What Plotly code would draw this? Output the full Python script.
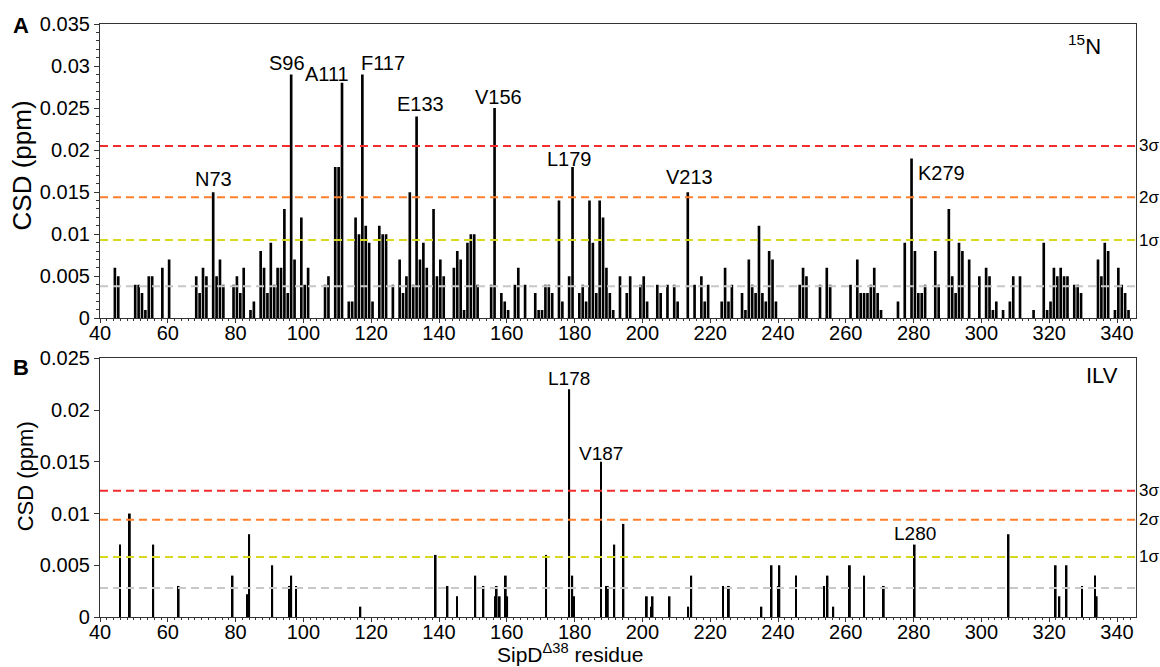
import plotly.graph_objects as go

# ---- Panel A: 15N backbone amide chemical shift differences ----
res_15n = [44, 45, 50, 51, 52, 53, 54, 55, 58, 60,
           68, 69, 70, 71, 73, 74, 75, 76, 79, 80, 81, 82, 84, 85,
           87, 88, 89, 90, 91, 92, 93, 94, 95, 96, 97, 99, 100, 101,
           106, 107, 109, 110, 111, 113, 114, 115, 116, 117, 118, 119, 120,
           122, 123, 124, 126, 128, 129, 130, 131, 132, 133, 134, 135, 136,
           138, 139, 140, 141, 144, 145, 146, 147, 148, 149, 150, 151,
           155, 156, 158, 159, 160, 162, 163, 165, 168, 169, 170, 171, 172, 173,
           175, 176, 178, 179, 181, 182, 183, 184, 185, 186, 187, 188, 189, 190, 191,
           193, 195, 196, 199, 200, 201, 204, 205, 207, 209, 210, 213,
           215, 217, 218, 219, 223, 224, 225, 226, 229, 230, 231, 232, 233, 234,
           235, 236, 237, 238, 239, 246, 247, 248, 252, 254, 255, 261,
           263, 264, 265, 266, 267, 268, 269, 270, 275, 277, 279, 280, 281, 282, 283,
           286, 287, 290, 291, 292, 293, 294, 296, 299, 301, 302, 303, 304, 306,
           308, 309, 311, 315, 318, 319, 320, 321, 322, 323, 324, 325, 327, 328, 329,
           334, 335, 336, 337, 339, 340, 341, 342, 343]
csd_15n = [0.006, 0.005, 0.004, 0.004, 0.003, 0.001, 0.005, 0.005, 0.006, 0.007,
           0.005, 0.003, 0.006, 0.005, 0.015, 0.005, 0.007, 0.004, 0.004, 0.005, 0.003, 0.006, 0.001, 0.002,
           0.008, 0.006, 0.003, 0.009, 0.004, 0.006, 0.006, 0.013, 0.003, 0.029, 0.007, 0.012, 0.004, 0.006,
           0.004, 0.005, 0.018, 0.018, 0.028, 0.002, 0.002, 0.012, 0.010, 0.029, 0.011, 0.009, 0.002,
           0.011, 0.010, 0.010, 0.004, 0.007, 0.003, 0.005, 0.015, 0.004, 0.024, 0.007, 0.009, 0.006,
           0.013, 0.005, 0.007, 0.005, 0.006, 0.008, 0.007, 0.001, 0.009, 0.010, 0.010, 0.004,
           0.004, 0.025, 0.003, 0.002, 0.001, 0.004, 0.006, 0.004, 0.003, 0.001, 0.001, 0.004, 0.004, 0.003,
           0.014, 0.002, 0.005, 0.018, 0.003, 0.004, 0.002, 0.014, 0.009, 0.003, 0.014, 0.012, 0.006, 0.003, 0.001,
           0.005, 0.003, 0.005, 0.004, 0.005, 0.002, 0.004, 0.003, 0.004, 0.004, 0.002, 0.015,
           0.004, 0.005, 0.002, 0.004, 0.002, 0.006, 0.002, 0.004, 0.003, 0.001, 0.007, 0.004, 0.003, 0.011,
           0.003, 0.002, 0.008, 0.007, 0.002, 0.004, 0.006, 0.005, 0.004, 0.006, 0.004, 0.004,
           0.007, 0.003, 0.003, 0.003, 0.004, 0.006, 0.003, 0.001, 0.002, 0.009, 0.019, 0.008, 0.003, 0.003, 0.004,
           0.008, 0.004, 0.013, 0.005, 0.003, 0.009, 0.008, 0.007, 0.005, 0.006, 0.005, 0.001, 0.002, 0.001,
           0.002, 0.005, 0.005, 0.001, 0.009, 0.001, 0.002, 0.006, 0.005, 0.006, 0.005, 0.005, 0.004, 0.004, 0.003,
           0.007, 0.005, 0.009, 0.008, 0.001, 0.006, 0.004, 0.003, 0.001]
sigma_15n = [0.0038, 0.0093, 0.0144, 0.0205]      # mean, 1σ, 2σ, 3σ
peaks_15n = ["N73", "S96", "A111", "F117", "E133", "V156", "L179", "V213", "K279"]

# ---- Panel B: ILV methyl chemical shift differences ----
pos_ilv = [45.9, 48.8, 55.7, 63.2, 79.1, 83.5, 84.0, 90.8, 96.0, 96.4, 97.8, 116.8,
           139.0, 142.5, 145.3, 150.7, 153.1, 156.5, 157.0, 157.9, 159.7, 160.1,
           171.6, 178.4, 179.3, 179.8, 187.8, 189.4, 189.8, 191.7, 194.4,
           201.3, 202.6, 203.0, 208.0, 213.5, 214.4, 223.8, 225.5, 235.1, 238.1,
           240.1, 240.4, 245.3, 253.6, 254.6, 256.3, 261.2, 265.4, 271.2, 280.3,
           308.0, 321.9, 323.0, 325.1, 329.7, 333.5, 334.0]
csd_ilv = [0.007, 0.010, 0.007, 0.003, 0.004, 0.0022, 0.008, 0.005, 0.003, 0.004, 0.003, 0.001,
           0.006, 0.003, 0.002, 0.004, 0.003, 0.002, 0.003, 0.002, 0.004, 0.002,
           0.006, 0.022, 0.004, 0.002, 0.015, 0.003, 0.003, 0.007, 0.009,
           0.002, 0.001, 0.002, 0.002, 0.001, 0.004, 0.003, 0.003, 0.001, 0.005,
           0.003, 0.005, 0.004, 0.003, 0.004, 0.001, 0.005, 0.004, 0.003, 0.007,
           0.008, 0.005, 0.002, 0.005, 0.003, 0.004, 0.002]
sigma_ilv = [0.0028, 0.0058, 0.0094, 0.0122]
peaks_ilv = {"L178": 178.4, "V187": 187.8, "L280": 280.3}

sigma_colors = ["#c8c8c8", "#d8d81e", "#ff7f2a", "#f22d2d"]
sigma_names = [None, "1σ", "2σ", "3σ"]

FONT = "Arial, 'Liberation Sans', sans-serif"
X_RANGE = [40, 345.6]
BAR_W_A = 0.78
BAR_W_B = 0.55

fig = go.Figure()
fig.add_trace(go.Bar(x=res_15n, y=csd_15n, width=BAR_W_A, offset=0,
                     marker=dict(color="black", line=dict(width=0)),
                     xaxis="x", yaxis="y", hoverinfo="x+y"))
fig.add_trace(go.Bar(x=pos_ilv, y=csd_ilv, width=BAR_W_B, offset=-BAR_W_B / 2,
                     marker=dict(color="black", line=dict(width=0)),
                     xaxis="x2", yaxis="y2", hoverinfo="x+y"))

shapes, annotations = [], []
for xr, yr, levels in (("x", "y", sigma_15n), ("x2", "y2", sigma_ilv)):
    for lvl, col, name in zip(levels, sigma_colors, sigma_names):
        shapes.append(dict(type="line", xref=f"{xr} domain", yref=yr, x0=0, x1=1.0,
                           y0=lvl, y1=lvl, layer="above",
                           line=dict(color=col, width=2, dash="8px,5px")))
        if name:
            annotations.append(dict(xref="paper", x=1, xanchor="left", xshift=1,
                                    yref=yr, y=lvl, yanchor="middle", text=name,
                                    showarrow=False, font=dict(size=17)))

# peak labels in panel A: (anchor, x-shift px, y-shift px)
label_style_a = {
    "N73": ("center", 0, 0), "S96": ("center", -4, -2), "A111": ("right", 8, -4),
    "F117": ("left", -2, -2), "E133": ("center", 4, 0), "V156": ("center", 4, -2),
    "L179": ("center", -3, -5), "V213": ("center", 2, 2),
}
for lab in peaks_15n:
    r = int(lab[1:])
    v = csd_15n[res_15n.index(r)]
    if lab == "K279":
        annotations.append(dict(xref="x", yref="y", x=r + BAR_W_A, y=v, xanchor="left",
                                yanchor="top", xshift=3, yshift=-1, text=lab,
                                showarrow=False, font=dict(size=20)))
        continue
    anc, dx, dy = label_style_a[lab]
    xpos = r + BAR_W_A / 2 if anc == "center" else (r if anc == "left" else r + BAR_W_A)
    annotations.append(dict(xref="x", yref="y", x=xpos, y=v, xanchor=anc, yanchor="bottom",
                            xshift=dx, yshift=dy, text=lab, showarrow=False,
                            font=dict(size=20)))

label_shift_b = {"L178": -2, "V187": -4, "L280": -1}
for lab, p in peaks_ilv.items():
    v = csd_ilv[pos_ilv.index(p)]
    annotations.append(dict(xref="x2", yref="y2", x=p, y=v, xanchor="center",
                            yanchor="bottom", yshift=label_shift_b[lab], text=lab,
                            showarrow=False, font=dict(size=19)))

# panel letters, nucleus tags and axis titles
annotations += [
    dict(xref="paper", yref="paper", x=-0.086, y=0.998, xanchor="left", yanchor="middle",
         text="<b>A</b>", showarrow=False, font=dict(size=22)),
    dict(xref="paper", yref="paper", x=-0.086, y=0.421, xanchor="left", yanchor="middle",
         text="<b>B</b>", showarrow=False, font=dict(size=22)),
    dict(xref="paper", yref="paper", x=0.968, y=0.965, xanchor="right", yanchor="middle",
         text="<sup>15</sup>N", showarrow=False, font=dict(size=22)),
    dict(xref="paper", yref="paper", x=0.985, y=0.407, xanchor="right", yanchor="middle",
         text="ILV", showarrow=False, font=dict(size=22)),
    dict(xref="paper", yref="paper", x=-0.075, y=0.762, textangle=-90,
         xanchor="center", yanchor="middle", text="CSD (ppm)", showarrow=False,
         font=dict(size=26)),
    dict(xref="paper", yref="paper", x=-0.072, y=0.238, textangle=-90,
         xanchor="center", yanchor="middle", text="CSD (ppm)", showarrow=False,
         font=dict(size=22)),
    dict(xref="paper", yref="paper", x=0.4537, y=-0.061, xanchor="center",
         yanchor="middle", text="SipD<sup>Δ38</sup> residue", showarrow=False,
         font=dict(size=21)),
]

axis_common = dict(showline=True, linecolor="#333", linewidth=1.2, mirror=True,
                   ticks="outside", tickcolor="#333", ticklen=5, tickwidth=1,
                   tickfont=dict(size=20), showgrid=False, zeroline=False)
x_common = dict(axis_common, range=X_RANGE, tick0=40, dtick=20, ticklen=4,
                ticklabelstandoff=-7,
                minor=dict(ticks="outside", dtick=2, ticklen=2, tickcolor="#333"))

fig.update_layout(
    width=1160, height=667,
    margin=dict(l=100, r=24, t=24, b=50),
    paper_bgcolor="white", plot_bgcolor="white",
    font=dict(family=FONT, color="black"),
    showlegend=False,
    xaxis=dict(x_common, anchor="y", domain=[0, 1]),
    yaxis=dict(axis_common, anchor="x", domain=[0.5037, 1], range=[0, 0.035],
               dtick=0.005, minor=dict(ticks="outside", dtick=0.001, ticklen=3,
                                       tickcolor="#333")),
    xaxis2=dict(x_common, anchor="y2", domain=[0, 1]),
    yaxis2=dict(axis_common, anchor="x2", domain=[0, 0.4362], range=[0, 0.025],
                dtick=0.005),
    shapes=shapes,
    annotations=annotations,
)

fig.write_html("out.html")
